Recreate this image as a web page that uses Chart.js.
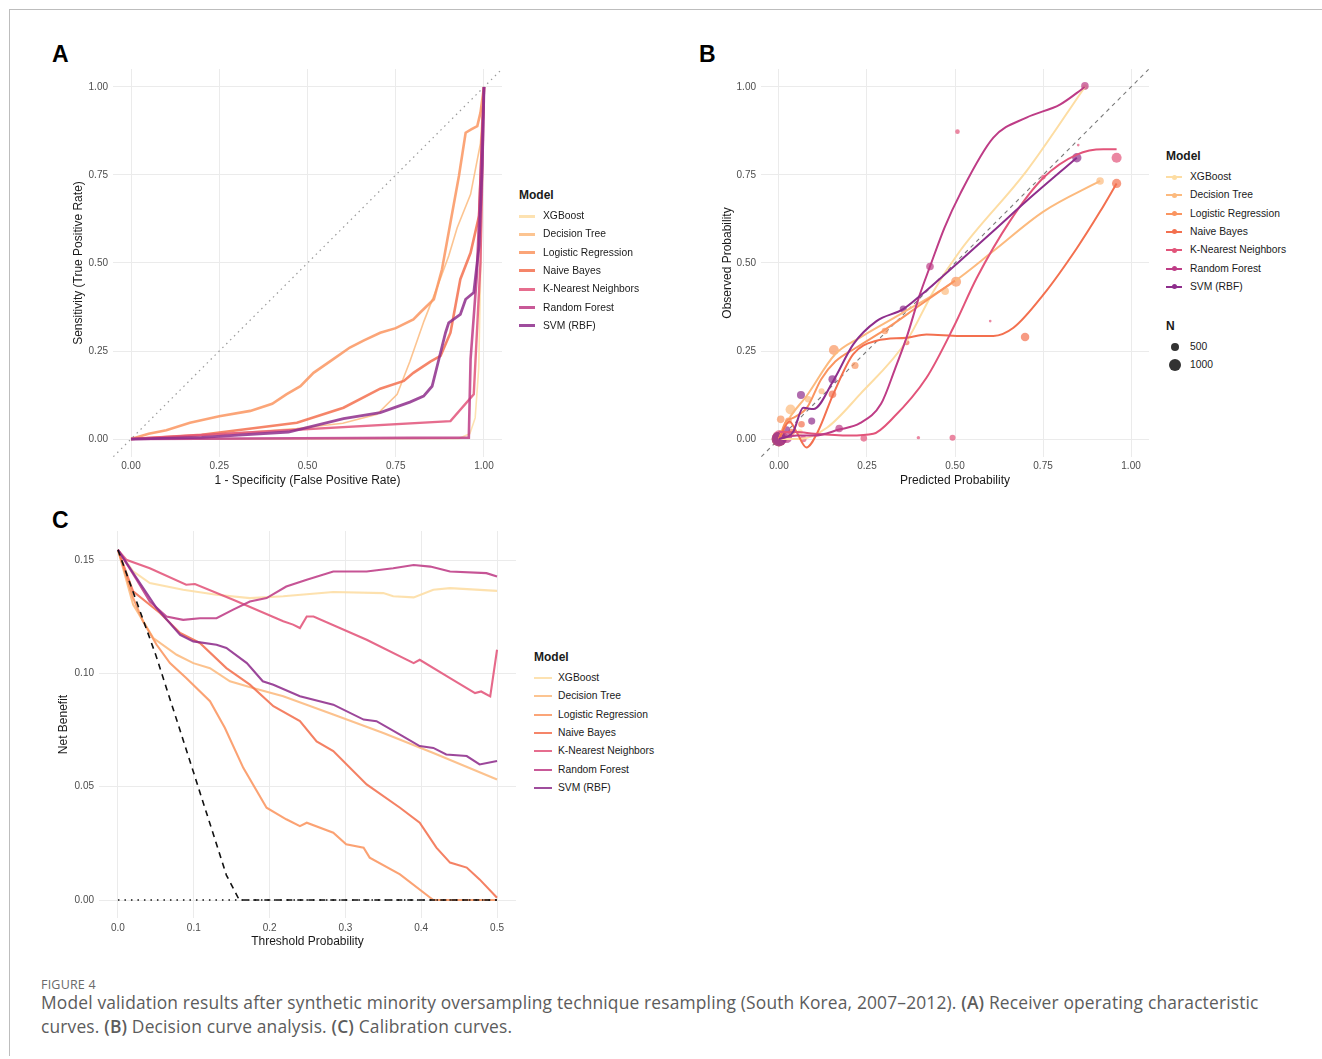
<!DOCTYPE html>
<html>
<head>
<meta charset="utf-8">
<script src="https://cdn.jsdelivr.net/npm/chart.js@4.4.0/dist/chart.umd.min.js"></script>
<style>
  body { margin: 0; background: #fff; }
  #page { position: relative; width: 1322px; height: 1059px; overflow: hidden; font-family: "Liberation Sans", Arial, sans-serif; }
  .frame-top { position: absolute; left: 9px; top: 9px; width: 1313px; height: 1px; background: #bdbdbd; }
  .frame-left { position: absolute; left: 9px; top: 9px; width: 1px; height: 1047px; background: #bdbdbd; }
  .panel { position: absolute; }
  .tag { position: absolute; font-weight: bold; font-size: 23px; color: #000; }
  .legend { position: absolute; font-size: 10.3px; color: #1a1a1a; }
  .legend .lt { position: absolute; font-weight: bold; font-size: 12px; white-space: nowrap; }
  .legend .li { position: absolute; white-space: nowrap; height: 18px; line-height: 18px; }
  .legend .key { position: absolute; top: 8px; }
  .legend .dot { position: absolute; border-radius: 50%; }
  .cap-head { position: absolute; left: 41px; top: 976px; font-family: "Open Sans", sans-serif; font-size: 12.5px; color: #6a6a6a; letter-spacing: 0.2px; }
  .cap { position: absolute; left: 41px; top: 990px; font-family: "Open Sans", sans-serif; font-size: 17.4px; line-height: 24px; color: #5c5c5c; white-space: nowrap; letter-spacing: 0.16px; }
  .cap b { color: #5c5c5c; font-weight: 600; }
</style>
</head>
<body>
<div id="page">
  <div class="frame-top"></div>
  <div class="frame-left"></div>

  <div class="tag" style="left:52px; top:41px;">A</div>
  <div class="tag" style="left:699px; top:41px;">B</div>
  <div class="tag" style="left:52px; top:507px;">C</div>

  <div class="panel" style="left:40px; top:61px;"><canvas id="rocChart" width="470" height="440"></canvas></div>
  <div class="panel" style="left:690px; top:61px;"><canvas id="calChart" width="470" height="440"></canvas></div>
  <div class="panel" style="left:40px; top:523px;"><canvas id="dcaChart" width="480" height="440"></canvas></div>

  <div id="legA" class="legend"></div>
  <div id="legB" class="legend"></div>
  <div id="legC" class="legend"></div>

  <div class="cap-head">FIGURE 4</div>
  <div class="cap">Model validation results after synthetic minority oversampling technique resampling (South Korea, 2007–2012). <b>(A)</b> Receiver operating characteristic<br>curves. <b>(B)</b> Decision curve analysis. <b>(C)</b> Calibration curves.</div>
</div>

<script>
Chart.defaults.font.family = '"Liberation Sans", Arial, sans-serif';

const models = ['XGBoost', 'Decision Tree', 'Logistic Regression', 'Naive Bayes', 'K-Nearest Neighbors', 'Random Forest', 'SVM (RBF)'];
const colors = ['#FDDDA3', '#FCBA7E', '#FA9560', '#F3704F', '#E2547A', '#BE3C86', '#8E2E8C'];

// ---- A: ROC curves (false positive rate, true positive rate), one list per model
const rocFpr = [
  [0, 0.50, 0.93, 0.96, 0.975, 0.985, 0.99, 1.0],
  [0, 0.2, 0.47, 0.6, 0.697, 0.754, 0.79, 0.83, 0.867, 0.9, 0.924, 0.962, 0.99, 1.0],
  [0, 0.05, 0.1, 0.167, 0.25, 0.338, 0.4, 0.44, 0.48, 0.517, 0.57, 0.62, 0.66, 0.706, 0.75, 0.8, 0.82, 0.858, 0.881, 0.905, 0.929, 0.948, 0.965, 0.981, 0.99, 1.0],
  [0, 0.2, 0.47, 0.602, 0.706, 0.773, 0.8, 0.848, 0.877, 0.905, 0.919, 0.933, 0.962, 0.986, 1.0],
  [0, 0.905, 0.971, 0.99, 1.0],
  [0, 0.957, 0.962, 0.98, 1.0],
  [0, 0.2, 0.446, 0.602, 0.706, 0.79, 0.829, 0.853, 0.872, 0.891, 0.9, 0.933, 0.948, 0.971, 0.986, 0.995, 1.0]
];
const rocTpr = [
  [0, 0, 0.002, 0.015, 0.06, 0.2, 0.45, 1.0],
  [0, 0.01, 0.03, 0.045, 0.07, 0.127, 0.22, 0.335, 0.43, 0.52, 0.6, 0.695, 0.84, 1.0],
  [0, 0.015, 0.025, 0.046, 0.065, 0.08, 0.1, 0.127, 0.15, 0.188, 0.225, 0.26, 0.28, 0.302, 0.315, 0.34, 0.36, 0.397, 0.482, 0.615, 0.747, 0.87, 0.88, 0.889, 0.927, 1.0],
  [0, 0.012, 0.046, 0.089, 0.143, 0.165, 0.188, 0.22, 0.236, 0.302, 0.378, 0.454, 0.529, 0.634, 1.0],
  [0, 0.051, 0.127, 0.5, 1.0],
  [0, 0.004, 0.227, 0.47, 1.0],
  [0, 0.005, 0.02, 0.058, 0.075, 0.105, 0.122, 0.15, 0.226, 0.302, 0.33, 0.354, 0.397, 0.416, 0.548, 0.776, 1.0]
];
const rocTicks = [0, 0.25, 0.5, 0.75, 1];
const rocTickLabels = ['0.00', '0.25', '0.50', '0.75', '1.00'];

// ---- B: smoothed calibration curves (predicted, observed)
const calPred = [
  [0, 0.06, 0.136, 0.23, 0.363, 0.439, 0.514, 0.703, 0.869],
  [0, 0.03, 0.079, 0.159, 0.23, 0.344, 0.5, 0.609, 0.751, 0.912],
  [0, 0.02, 0.04, 0.08, 0.12, 0.16, 0.22, 0.3, 0.4, 0.5],
  [0, 0.03, 0.05, 0.078, 0.11, 0.154, 0.211, 0.277, 0.363, 0.419, 0.514, 0.609, 0.666, 0.751, 0.846, 0.912, 0.959],
  [0, 0.05, 0.1, 0.2, 0.268, 0.325, 0.419, 0.495, 0.562, 0.656, 0.751, 0.846, 0.921, 0.959],
  [0, 0.05, 0.1, 0.171, 0.23, 0.29, 0.33, 0.363, 0.4, 0.429, 0.47, 0.514, 0.609, 0.703, 0.798, 0.869],
  [0, 0.04, 0.069, 0.098, 0.154, 0.211, 0.277, 0.353, 0.4, 0.514, 0.609, 0.703, 0.846]
];
const calObs = [
  [0, 0.0, 0.032, 0.127, 0.279, 0.42, 0.534, 0.761, 1.0],
  [0, 0.06, 0.123, 0.24, 0.288, 0.354, 0.449, 0.534, 0.646, 0.733],
  [0, 0.05, 0.06, 0.09, 0.17, 0.22, 0.26, 0.31, 0.38, 0.45],
  [0, 0.05, 0.02, -0.024, 0.02, 0.127, 0.241, 0.279, 0.288, 0.297, 0.293, 0.293, 0.316, 0.41, 0.542, 0.646, 0.726],
  [0.02, 0.02, 0.015, 0.01, 0.015, 0.061, 0.174, 0.316, 0.458, 0.619, 0.742, 0.808, 0.823, 0.823],
  [0, 0.01, 0.01, 0.027, 0.045, 0.1, 0.2, 0.29, 0.41, 0.49, 0.6, 0.695, 0.856, 0.913, 0.95, 1.0],
  [0, 0.02, 0.089, 0.085, 0.165, 0.269, 0.335, 0.369, 0.406, 0.506, 0.591, 0.676, 0.799]
];
// binned points (predicted, observed, N)
const binPred = [
  [0.0, 0.06, 0.869],
  [0.033, 0.083, 0.121, 0.472, 0.912],
  [0.005, 0.027, 0.156, 0.216, 0.301, 0.503],
  [0.0, 0.036, 0.064, 0.152, 0.363, 0.699, 0.959],
  [0.003, 0.069, 0.241, 0.396, 0.493, 0.507, 0.6, 0.751, 0.85, 0.959],
  [0.022, 0.171, 0.429, 0.869],
  [0.0, 0.022, 0.0625, 0.093, 0.152, 0.353, 0.846]
];
const binObs = [
  [0.0, 0.02, 1.0],
  [0.084, 0.113, 0.136, 0.42, 0.733],
  [0.056, 0.052, 0.253, 0.209, 0.307, 0.447],
  [0.0, 0.02, 0.042, 0.127, 0.274, 0.29, 0.726],
  [0.004, 0.0, 0.002, 0.004, 0.004, 0.873, 0.335, 0.744, 0.835, 0.799],
  [0.004, 0.03, 0.49, 1.003],
  [0.0, 0.027, 0.125, 0.051, 0.17, 0.369, 0.799]
];
const binN = [
  [1500, 200, 200],
  [700, 300, 250, 400, 400],
  [400, 300, 700, 350, 300, 700],
  [1500, 300, 300, 400, 200, 500, 600],
  [1600, 300, 300, 80, 250, 150, 50, 150, 50, 700],
  [800, 400, 400, 400],
  [1500, 300, 450, 350, 450, 350, 600]
];

// ---- C: decision curves (threshold, net benefit)
const dcaThr = [
  [0, 0.02, 0.042, 0.086, 0.13, 0.174, 0.218, 0.284, 0.35, 0.363, 0.39, 0.416, 0.438, 0.5],
  [0, 0.02, 0.0466, 0.0774, 0.0994, 0.1214, 0.1477, 0.178, 0.218, 0.284, 0.35, 0.416, 0.5],
  [0, 0.02, 0.033, 0.051, 0.0686, 0.09, 0.1214, 0.1411, 0.1653, 0.196, 0.222, 0.24, 0.249, 0.284, 0.301, 0.324, 0.332, 0.372, 0.412, 0.416, 0.5],
  [0, 0.02, 0.0554, 0.082, 0.108, 0.143, 0.174, 0.205, 0.24, 0.262, 0.284, 0.328, 0.372, 0.398, 0.42, 0.438, 0.46, 0.477, 0.5],
  [0, 0.011, 0.042, 0.09, 0.1015, 0.152, 0.218, 0.231, 0.24, 0.249, 0.258, 0.328, 0.39, 0.398, 0.438, 0.471, 0.479, 0.491, 0.5],
  [0, 0.0246, 0.042, 0.064, 0.086, 0.108, 0.13, 0.152, 0.174, 0.196, 0.222, 0.249, 0.284, 0.328, 0.363, 0.39, 0.412, 0.438, 0.486, 0.5],
  [0, 0.0246, 0.051, 0.082, 0.0994, 0.13, 0.143, 0.17, 0.191, 0.205, 0.24, 0.284, 0.324, 0.341, 0.372, 0.398, 0.416, 0.433, 0.46, 0.477, 0.5]
];
const dcaNb = [
  [0.1545, 0.145, 0.1398, 0.1369, 0.1347, 0.1332, 0.134, 0.1359, 0.1354, 0.134, 0.1335, 0.1369, 0.1376, 0.1364],
  [0.1545, 0.1303, 0.1156, 0.1082, 0.1045, 0.1023, 0.0965, 0.0935, 0.0899, 0.0818, 0.0737, 0.0649, 0.0532],
  [0.1545, 0.1333, 0.123, 0.1126, 0.1045, 0.0979, 0.0877, 0.0759, 0.0583, 0.0407, 0.0356, 0.0326, 0.0341, 0.0297, 0.0246, 0.0231, 0.0187, 0.0113, 0.001, 0.0, 0.0],
  [0.1545, 0.1362, 0.1266, 0.1178, 0.1134, 0.1023, 0.095, 0.0855, 0.0789, 0.070, 0.0657, 0.051, 0.0407, 0.0341, 0.0231, 0.0165, 0.0143, 0.0091, 0.001],
  [0.1545, 0.1501, 0.1464, 0.1391, 0.1394, 0.1325, 0.123, 0.1215, 0.12, 0.1251, 0.1251, 0.1148, 0.1045, 0.106, 0.0979, 0.0913, 0.092, 0.0898, 0.1104],
  [0.1545, 0.1413, 0.1317, 0.1251, 0.1236, 0.1243, 0.1243, 0.1281, 0.1317, 0.1332, 0.1383, 0.1413, 0.1449, 0.1449, 0.1464, 0.1478, 0.1471, 0.1449, 0.1442, 0.1427],
  [0.1545, 0.142, 0.1288, 0.117, 0.1141, 0.1126, 0.1112, 0.1045, 0.0965, 0.095, 0.0899, 0.0862, 0.0796, 0.0789, 0.073, 0.0679, 0.0671, 0.0642, 0.0635, 0.0598, 0.0613]
];
const treatAllThr = [0, 0.05, 0.1, 0.143, 0.16, 0.5];
const treatAllNb = [0.1545, 0.108, 0.056, 0.011, 0.0, 0.0];
const treatNoneThr = [0, 0.5];
const treatNoneNb = [0, 0];
const dcaXTicks = [0, 0.1, 0.2, 0.3, 0.4, 0.5];
const dcaXLabels = ['0.0', '0.1', '0.2', '0.3', '0.4', '0.5'];
const dcaYTicks = [0, 0.05, 0.1, 0.15];
const dcaYLabels = ['0.00', '0.05', '0.10', '0.15'];

function rgba(hex, a) {
  const n = parseInt(hex.slice(1), 16);
  return `rgba(${n >> 16}, ${(n >> 8) & 255}, ${n & 255}, ${a})`;
}
const pts = (xs, ys) => xs.map((x, j) => ({ x, y: ys[j] }));

function linAxis(o) {
  return {
    type: 'linear', min: o.min, max: o.max,
    afterBuildTicks: s => { s.ticks = o.ticks.map(v => ({ value: v })); },
    afterFit: s => {
      if (o.width) s.width = o.width;
      if (o.height) s.height = o.height;
      // keep the plot area exactly where the layout padding puts it
      s.paddingTop = s.paddingBottom = s.paddingLeft = s.paddingRight = 0;
    },
    grid: { color: '#ebebeb', drawTicks: false },
    border: { display: false },
    ticks: { padding: o.pad, color: '#4d4d4d', font: { size: 10 }, autoSkip: false, maxRotation: 0,
             callback: (v, i) => o.labels[i] },
    title: { display: true, text: o.title, color: '#1a1a1a', font: { size: 12 }, padding: o.titlePad }
  };
}

function baseOptions(padding, x, y) {
  return {
    responsive: false,
    animation: false,
    layout: { padding },
    plugins: { legend: { display: false }, tooltip: { enabled: false } },
    events: [],
    scales: { x, y }
  };
}

// ---- A
const rocWidths = [1.6, 1.6, 2.6, 2.6, 2.4, 2.6, 2.8];
const rocSets = [{
  data: pts([-0.05, 1.05], [-0.05, 1.05]), showLine: true, pointRadius: 0,
  borderColor: '#9a9a9a', borderWidth: 1.2, borderDash: [1.5, 4], order: 100
}];
models.forEach((m, i) => rocSets.push({
  data: pts(rocFpr[i], rocTpr[i]), showLine: true, pointRadius: 0,
  borderColor: rgba(colors[i], 0.85), borderWidth: rocWidths[i], order: 20 - i
}));
new Chart(document.getElementById('rocChart'), {
  type: 'scatter',
  data: { datasets: rocSets },
  options: baseOptions({ left: 0, top: 8, right: 8, bottom: 0 },
    linAxis({ min: -0.051, max: 1.051, ticks: rocTicks, labels: rocTickLabels, pad: 3, height: 44,
              title: '1 - Specificity (False Positive Rate)', titlePad: { top: 0, bottom: 13 } }),
    linAxis({ min: -0.051, max: 1.051, ticks: rocTicks, labels: rocTickLabels, pad: 5, width: 73,
              title: 'Sensitivity (True Positive Rate)', titlePad: { top: 31, bottom: 0 } }))
});

// ---- B
const sizeOf = n => Math.max(1.2, 0.19 * Math.sqrt(n));
const calSets = [{
  data: pts([-0.05, 1.05], [-0.05, 1.05]), showLine: true, pointRadius: 0,
  borderColor: '#7a7a7a', borderWidth: 1.1, borderDash: [4, 4], order: 100
}];
models.forEach((m, i) => {
  calSets.push({
    data: pts(binPred[i], binObs[i]), showLine: false,
    pointRadius: binN[i].map(sizeOf), pointBorderWidth: 0,
    pointBackgroundColor: rgba(colors[i], 0.7), order: 40 - i
  });
  calSets.push({
    data: pts(calPred[i], calObs[i]), showLine: true, pointRadius: 0,
    borderColor: colors[i], borderWidth: 2, cubicInterpolationMode: 'monotone', order: 20 - i
  });
});
new Chart(document.getElementById('calChart'), {
  type: 'scatter',
  data: { datasets: calSets },
  options: baseOptions({ left: 0, top: 8, right: 11, bottom: 0 },
    linAxis({ min: -0.051, max: 1.051, ticks: rocTicks, labels: rocTickLabels, pad: 3, height: 44,
              title: 'Predicted Probability', titlePad: { top: 0, bottom: 13 } }),
    linAxis({ min: -0.051, max: 1.051, ticks: rocTicks, labels: rocTickLabels, pad: 5, width: 71,
              title: 'Observed Probability', titlePad: { top: 30, bottom: 0 } }))
});

// ---- C
const dcaSets = [
  { data: pts(treatNoneThr, treatNoneNb), showLine: true, pointRadius: 0, borderColor: '#111',
    borderWidth: 1.6, borderDash: [1.5, 5], order: 1 },
  { data: pts(treatAllThr, treatAllNb), showLine: true, pointRadius: 0, borderColor: '#111',
    borderWidth: 1.6, borderDash: [6, 5], order: 0 }
];
models.forEach((m, i) => dcaSets.push({
  data: pts(dcaThr[i], dcaNb[i]), showLine: true, pointRadius: 0,
  borderColor: rgba(colors[i], 0.88), borderWidth: 2.1, order: 20 - i
}));
new Chart(document.getElementById('dcaChart'), {
  type: 'scatter',
  data: { datasets: dcaSets },
  options: baseOptions({ left: 0, top: 8, right: 4, bottom: 0 },
    linAxis({ min: -0.025, max: 0.525, ticks: dcaXTicks, labels: dcaXLabels, pad: 4, height: 45,
              title: 'Threshold Probability', titlePad: { top: 0, bottom: 14 } }),
    linAxis({ min: -0.00794, max: 0.1628, ticks: dcaYTicks, labels: dcaYLabels, pad: 5, width: 59,
              title: 'Net Benefit', titlePad: { top: 16, bottom: 0 } }))
});

// ---- HTML legends
function buildLegend(id, left, titleY, firstY, keyW, textX, keyH, withDot, alpha) {
  const el = document.getElementById(id);
  el.style.left = left + 'px';
  el.style.top = '0px';
  let html = `<div class="lt" style="left:0; top:${titleY - 7}px;">Model</div>`;
  models.forEach((m, i) => {
    const y = firstY + i * 18.33 - 9;
    html += `<div class="li" style="left:0; top:${y}px; width:200px;">` +
      `<span class="key" style="left:0; width:${keyW}px; height:${keyH}px; margin-top:${-keyH / 2 + 1}px; background:${rgba(colors[i], alpha)}"></span>` +
      (withDot ? `<span class="dot" style="left:${keyW / 2 - 2.5}px; top:6.5px; width:5px; height:5px; background:${colors[i]}"></span>` : '') +
      `<span style="position:absolute; left:${textX}px;">${m}</span></div>`;
  });
  el.innerHTML = html;
}
buildLegend('legA', 519, 195, 216, 16, 24, 3, false, 0.85);
buildLegend('legB', 1166, 156, 177, 16, 24, 2, true, 1);
buildLegend('legC', 534, 657, 678, 18, 24, 2, false, 0.85);

// size legend for N in panel B
const nLegendValues = [500, 1000];
const nl = document.getElementById('legB');
let nh = `<div class="lt" style="left:0; top:319px;">N</div>`;
nLegendValues.forEach((n, k) => {
  const r = sizeOf(n);
  const cy = 347 + k * 18;
  nh += `<span class="dot" style="left:${9 - r}px; top:${cy - r}px; width:${2 * r}px; height:${2 * r}px; background:#333"></span>` +
        `<div class="li" style="left:24px; top:${cy - 9}px;">${n}</div>`;
});
nl.innerHTML += nh;
</script>
</body>
</html>
